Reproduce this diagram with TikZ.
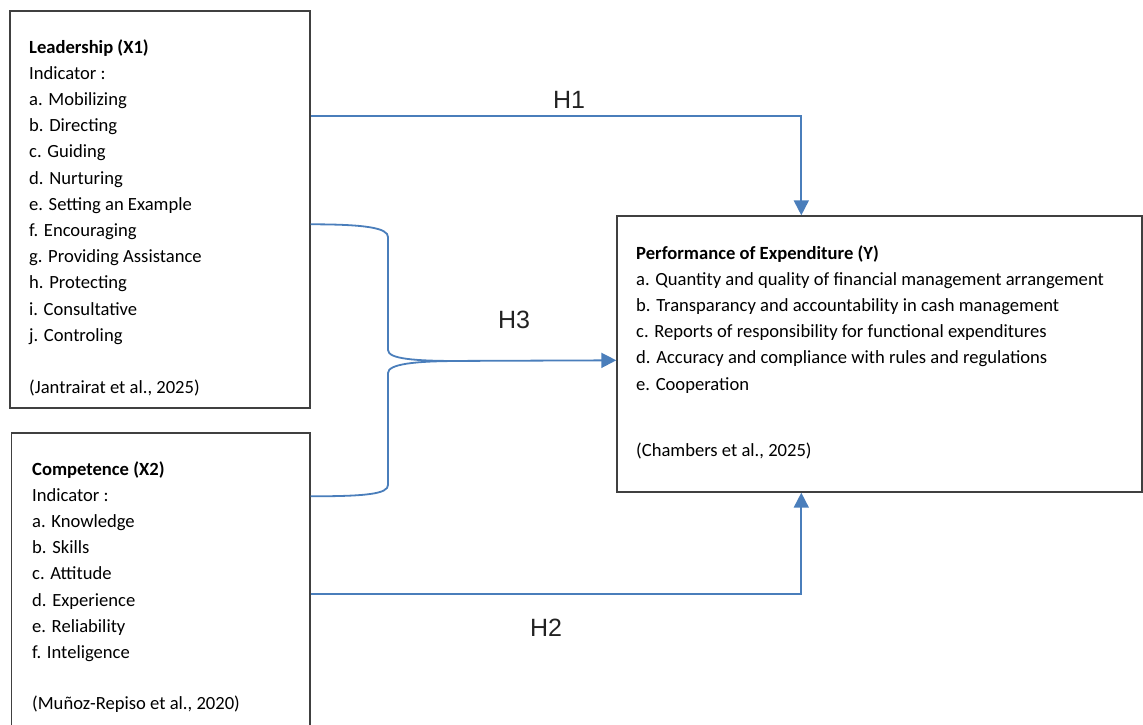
\documentclass[tikz,border=0pt]{standalone}
\usepackage{fontspec}
\setmainfont{Carlito}
\newfontfamily\hfont{Liberation Sans}
\usetikzlibrary{arrows.meta,calc}
\definecolor{connblue}{RGB}{74,126,187}
\definecolor{boxgray}{RGB}{64,64,64}
\definecolor{hgray}{RGB}{34,34,34}
\tikzset{
  box/.style={draw=boxgray, line width=1.4pt, inner sep=0pt, fill=none},
  txt/.style={anchor=base west, inner sep=0pt, font=\fontsize{18.6}{22}\selectfont},
  conn/.style={draw=connblue, line width=1.8pt},
  arr/.style={conn, -{Triangle[length=15pt,width=15pt]}},
  hlab/.style={font=\hfont\fontsize{25}{30}\selectfont, text=hgray, inner sep=0pt}
}
\begin{document}
\begin{tikzpicture}[x=1pt,y=-1pt]
\useasboundingbox (0,0) rectangle (1143,724);
% boxes
\node[box, minimum width=300pt, minimum height=397pt] (x1) at (160,209.5) {};
\node[box, minimum width=298.5pt, minimum height=320pt] (x2) at (160.75,593) {};
\node[box, minimum width=525pt, minimum height=276pt] (y) at (879.5,354) {};
% texts X1
\foreach \t [count=\i from 0] in {{\textbf{Leadership (X1)}}, {Indicator :}, {a. Mobilizing}, {b. Directing}, {c. Guiding}, {d. Nurturing}, {e. Setting an Example}, {f. Encouraging}, {g. Providing Assistance}, {h. Protecting}, {i. Consultative}, {j. Controling}}
  \node[txt] (x1t\i) at (29,{53+26.2*\i}) {\t};
\node[txt] (x1c) at (29,393) {(Jantrairat et al., 2025)};
% texts X2
\foreach \t [count=\i from 0] in {{\textbf{Competence (X2)}}, {Indicator :}, {a. Knowledge}, {b. Skills}, {c. Attitude}, {d. Experience}, {e. Reliability}, {f. Inteligence}}
  \node[txt] (x2t\i) at (32,{475+26.2*\i}) {\t};
\node[txt] (x2c) at (32,709) {(Muñoz-Repiso et al., 2020)};
% texts Y
\foreach \t [count=\i from 0] in {{\textbf{Performance of Expenditure (Y)}}, {a. Quantity and quality of financial management arrangement}, {b. Transparancy and accountability in cash management}, {c. Reports of responsibility for functional expenditures}, {d. Accuracy and compliance with rules and regulations}, {e. Cooperation}}
  \node[txt] (yt\i) at (636,{259+26.2*\i}) {\t};
\node[txt] (yc) at (636,456) {(Chambers et al., 2025)};
% H1
\draw[arr] ($(x1.north east)+(0,106)$) -| ($(y.north west)+(185,0)$);
% H2
\draw[arr] ($(x2.north east)+(0,162)$) -| ($(y.south west)+(185,0)$);
% H3 brace
\draw[conn] ($(x1.north east)+(0,214)$) .. controls +(55,0) and +(0,-9) .. (388,237) -- (388,350) .. controls +(0,9) and +(-45,0) .. (460,361);
\draw[conn] ($(x2.north east)+(0,64)$) .. controls +(55,0) and +(0,9) .. (388,485) -- (388,373) .. controls +(0,-9) and +(-45,0) .. (460,361);
\coordinate (h3s) at (440,361);
\draw[arr] (h3s) -- ($(y.north west)+(0,145)$);
% labels
\node[hlab] (h1) at (569,100) {H1};
\node[hlab] (h3) at (514,320) {H3};
\node[hlab] (h2) at (546,628) {H2};
\end{tikzpicture}
\end{document}
